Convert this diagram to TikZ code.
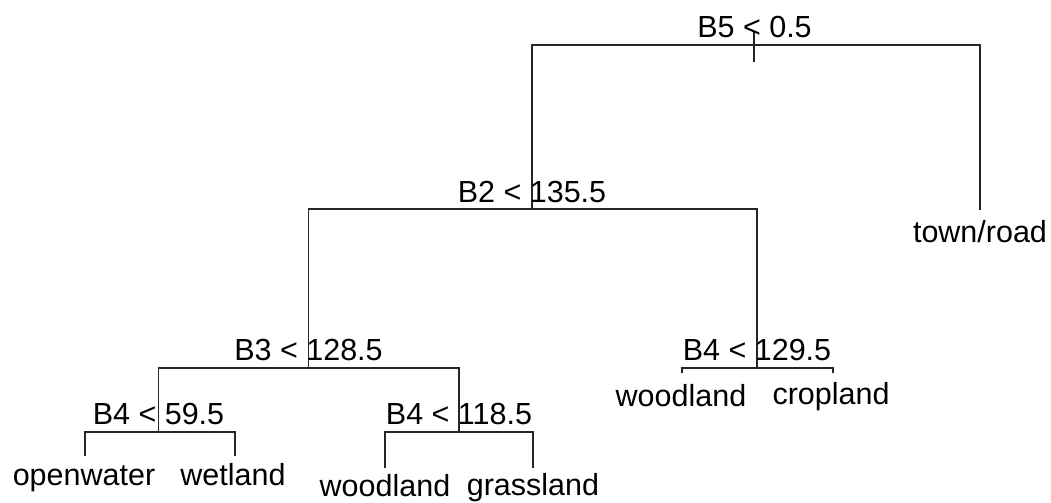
\documentclass[tikz,border=0pt]{standalone}
\usepackage{fontspec}
\setmainfont{Liberation Sans}
\begin{document}
\begin{tikzpicture}[x=0.5pt,y=-0.5pt,
  branch/.style={draw=black!85,line width=0.95pt},
  split/.style={anchor=base,inner sep=0pt,font=\fontsize{15.25}{18}\selectfont},
  leaf/.style={anchor=base,inner sep=0pt,font=\fontsize{15.25}{18}\selectfont}]
\useasboundingbox (0,0) rectangle (1051,503);
% split points of the tree
\coordinate (r)    at (754,45);
\coordinate (rtop) at (754,32);
\coordinate (rbot) at (754,62);
\coordinate (n2)   at (532,209.3);
\coordinate (n4)   at (308.5,367.7);
\coordinate (n5)   at (757,367.7);
\coordinate (n8)   at (158.5,431.7);
\coordinate (n9)   at (459,431.7);
% ends of the terminal branches
\coordinate (l3)   at (980,210);
\coordinate (l16)  at (85,456);
\coordinate (l17)  at (235.3,456);
\coordinate (l18)  at (385,468.3);
\coordinate (l19)  at (532.7,468.3);
\coordinate (l10)  at (682.3,373.3);
\coordinate (l11)  at (832.7,373.3);
% branches
\draw[branch] (rtop) -- (rbot);
\draw[branch] (r) -| (n2);
\draw[branch] (r) -| (l3);
\draw[branch] (n2) -| (n4);
\draw[branch] (n2) -| (n5);
\draw[branch] (n4) -| (n8);
\draw[branch] (n4) -| (n9);
\draw[branch] (n8) -| (l16);
\draw[branch] (n8) -| (l17);
\draw[branch] (n9) -| (l18);
\draw[branch] (n9) -| (l19);
\draw[branch] (n5) -| (l10);
\draw[branch] (n5) -| (l11);
% split rules
\node[split] (t1) at (754.5,37.5) {B5 < 0.5};
\node[split] (t2) at (532,202) {B2 < 135.5};
\node[split] (t4) at (308.5,360) {B3 < 128.5};
\node[split] (t5) at (757,360) {B4 < 129.5};
\node[split] (t8) at (158.5,424.3) {B4 < 59.5};
\node[split] (t9) at (459,424.3) {B4 < 118.5};
% class labels
\node[leaf] (c3)  at (980,242) {town/road};
\node[leaf] (c16) at (84,485) {openwater};
\node[leaf] (c17) at (233,485) {wetland};
\node[leaf] (c18) at (385,496) {woodland};
\node[leaf] (c19) at (533,495) {grassland};
\node[leaf] (c10) at (681,406) {woodland};
\node[leaf] (c11) at (831,404) {cropland};
\end{tikzpicture}
\end{document}
